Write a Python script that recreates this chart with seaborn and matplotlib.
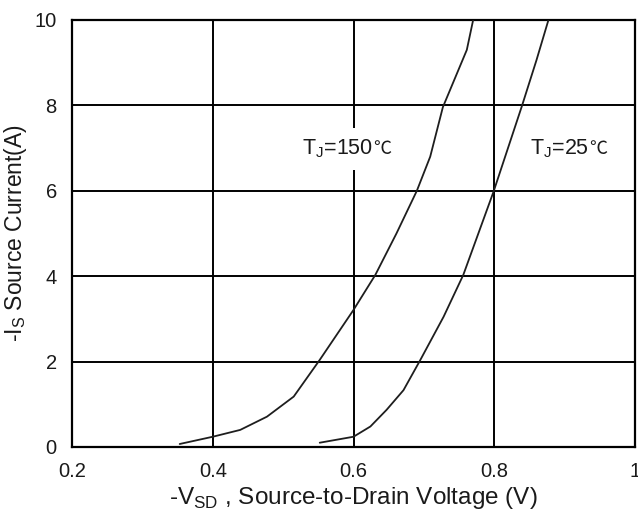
import matplotlib
matplotlib.use("Agg")
import matplotlib.pyplot as plt
import seaborn as sns
import pandas as pd

# Data
v_150 = [0.353, 0.400, 0.439, 0.477, 0.515, 0.552, 0.600, 0.631, 0.661, 0.690, 0.709, 0.727, 0.761, 0.770]
i_150 = [0.07, 0.24, 0.40, 0.71, 1.18, 2.04, 3.21, 4.03, 5.00, 6.00, 6.80, 7.96, 9.30, 10.0]
v_25 = [0.552, 0.600, 0.624, 0.647, 0.671, 0.695, 0.728, 0.756, 0.799, 0.839, 0.860, 0.877]
i_25 = [0.10, 0.24, 0.48, 0.87, 1.33, 2.04, 3.05, 4.03, 5.98, 7.97, 9.06, 10.0]

x_ticks = [0.2, 0.4, 0.6, 0.8, 1.0]
x_tick_labels = ["0.2", "0.4", "0.6", "0.8", "1"]
y_ticks = [0, 2, 4, 6, 8, 10]
y_tick_labels = ["0", "2", "4", "6", "8", "10"]

label_150 = "T$_\\mathrm{J}$=150"
label_25 = "T$_\\mathrm{J}$=25"
degree_c = "℃"
xlabel = "-V$_\\mathrm{SD}$ , Source-to-Drain Voltage (V)"
ylabel = "-I$_\\mathrm{S}$ Source Current(A)"

sns.set_style("white")
plt.rcParams["font.family"] = ["Liberation Sans", "DejaVu Sans"]
plt.rcParams["mathtext.fontset"] = "custom"
plt.rcParams["mathtext.rm"] = "Liberation Sans"

df = pd.concat([
    pd.DataFrame({"V": v_150, "I": i_150, "T": "150"}),
    pd.DataFrame({"V": v_25, "I": i_25, "T": "25"}),
])

fig = plt.figure(figsize=(6.38, 5.18), dpi=100)
ax = fig.add_axes([0.1129, 0.1371, 0.8824, 0.8243])

sns.lineplot(data=df, x="V", y="I", hue="T", palette={"150": "#1e1e1e", "25": "#1e1e1e"},
             sort=False, estimator=None, legend=False, linewidth=1.3, ax=ax, zorder=5)

ax.set_xlim(0.2, 1.0)
ax.set_ylim(0, 10)
ax.set_xticks(x_ticks)
ax.set_xticklabels(x_tick_labels)
ax.set_yticks(y_ticks)
ax.set_yticklabels(y_tick_labels)
ax.tick_params(length=0, labelsize=14.5, colors="#1a1a1a", pad=11)
ax.grid(True, color="black", linewidth=1.4)
ax.set_axisbelow(True)
for s in ax.spines.values():
    s.set_visible(True)
    s.set_color("black")
    s.set_linewidth(1.6)

ax.set_xlabel(xlabel, fontsize=17.5, color="#1a1a1a", labelpad=3)
ax.set_ylabel(ylabel, fontsize=16.5, color="#1a1a1a", labelpad=4)

t1 = ax.text(0.527, 6.98, label_150, fontsize=15.5, color="#1a1a1a", ha="left", va="center",
             bbox=dict(facecolor="white", edgecolor="none", pad=7), zorder=4)
ax.annotate(degree_c, xy=(1, 0.5), xycoords=t1, ha="left", va="center", fontsize=13,
            color="#1a1a1a", family=["Noto Sans CJK SC", "DejaVu Sans"], zorder=4)
t2 = ax.text(0.851, 6.98, label_25, fontsize=15.5, color="#1a1a1a", ha="left", va="center", zorder=4)
ax.annotate(degree_c, xy=(1, 0.5), xycoords=t2, ha="left", va="center", fontsize=13,
            color="#1a1a1a", family=["Noto Sans CJK SC", "DejaVu Sans"], zorder=4)

fig.savefig("out.png", dpi=100)
